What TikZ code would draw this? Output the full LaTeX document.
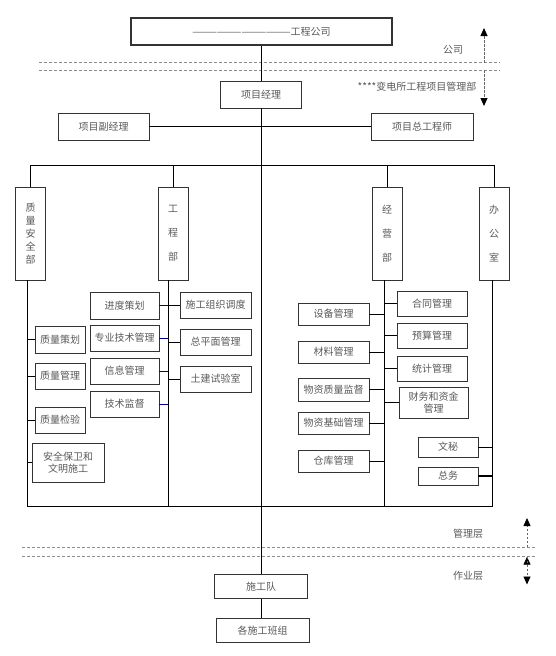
\documentclass[tikz,border=0pt]{standalone}
\usepackage{fontspec}
\setmainfont{Noto Sans CJK SC}
\usetikzlibrary{arrows.meta}

\begin{document}
\begin{tikzpicture}[x=1pt,y=-1pt,
  line width=0.8pt,
  unit box/.style={draw=black!80,text=black!65,inner sep=0pt,align=center,font=\fontsize{10}{12}\selectfont},
  dept box/.style={unit box,minimum width=30pt,minimum height=93pt,font=\fontsize{10}{24}\selectfont},
  box size/.style 2 args={minimum width=#1pt,minimum height=#2pt},
  blue link/.style={draw=blue!55!black},
  layer line/.style={draw=black!45,dash pattern=on 3pt off 2pt},
  layer arrow/.style={draw=black!60,dash pattern=on 2.5pt off 1.5pt,-{Triangle[length=8pt,width=7pt,black]}},
  side label/.style={text=black!65,font=\fontsize{10}{12}\selectfont}]

  \useasboundingbox (0,0) rectangle (555,656);

  \node[unit box,line width=1.2pt,box size={261}{27}] (co) at (261.5,31.5) {————————————工程公司};
  \node[unit box,box size={81}{27}] (pm) at (261,94.5) {项目经理};
  \node[unit box,box size={91}{27}] (dpm) at (103.5,126.5) {项目副经理};
  \node[unit box,box size={102}{27}] (ce) at (422,126.5) {项目总工程师};

  \node[dept box,font=\fontsize{10}{13}\selectfont] (qs) at (30.5,233.5) {质\\量\\安\\全\\部};
  \node[dept box] (en) at (173,233.5) {工\\程\\部};
  \node[dept box] (bz) at (387,233.5) {经\\营\\部};
  \node[dept box] (of) at (494,233.5) {办\\公\\室};

  \node[unit box,box size={50}{27}] (q1) at (60,339.5) {质量策划};
  \node[unit box,box size={50}{26}] (q2) at (60,376) {质量管理};
  \node[unit box,box size={50}{26}] (q3) at (60,420) {质量检验};
  \node[unit box,box size={72}{39}] (q4) at (68,462.5) {安全保卫和\\文明施工};

  \node[unit box,box size={69}{27}] (e1) at (124.5,305.5) {进度策划};
  \node[unit box,box size={69}{26}] (e2) at (124.5,338) {专业技术管理};
  \node[unit box,box size={69}{26}] (e3) at (124.5,371) {信息管理};
  \node[unit box,box size={69}{26}] (e4) at (124.5,404) {技术监督};
  \node[unit box,box size={71}{26}] (e5) at (215.5,305) {施工组织调度};
  \node[unit box,box size={71}{26}] (e6) at (215.5,342) {总平面管理};
  \node[unit box,box size={71}{26}] (e7) at (215.5,379) {土建试验室};

  \node[unit box,box size={70}{25}] (b1) at (432,303.5) {合同管理};
  \node[unit box,box size={70}{25}] (b2) at (432,335.5) {预算管理};
  \node[unit box,box size={70}{25}] (b3) at (432,368.5) {统计管理};
  \node[unit box,box size={69}{31}] (b4) at (433.5,402.5) {财务和资金\\管理};
  \node[unit box,box size={71}{22}] (b5) at (333.5,314) {设备管理};
  \node[unit box,box size={71}{22}] (b6) at (333.5,352) {材料管理};
  \node[unit box,box size={71}{23}] (b7) at (333.5,389.5) {物资质量监督};
  \node[unit box,box size={71}{22}] (b8) at (333.5,423) {物资基础管理};
  \node[unit box,box size={71}{22}] (b9) at (333.5,461) {仓库管理};

  \node[unit box,box size={60}{20}] (o1) at (448,447) {文秘};
  \node[unit box,box size={60}{18}] (o2) at (448,476) {总务};

  \node[unit box,box size={93}{24.5}] (tm) at (261,586.5) {施工队};
  \node[unit box,box size={93}{24.5}] (gp) at (262.5,630.5) {各施工班组};

  \node[side label] (lc) at (453,50) {公司};
  \node[side label] (lp) at (417,87) {****变电所工程项目管理部};
  \node[side label] (lm) at (468,534) {管理层};
  \node[side label] (lw) at (468,576) {作业层};

  \coordinate (hub) at (261,165.7);
  \coordinate (base) at (261,506);
  \coordinate (qsp) at ([xshift=-3.5pt]qs.south);
  \coordinate (enp) at ([xshift=-5pt]en.south);
  \coordinate (bzp) at ([xshift=-3pt]bz.south);
  \coordinate (ofp) at ([xshift=-2pt]of.south);
  \coordinate (a1) at (484,62.5);
  \coordinate (a2) at (484,28);
  \coordinate (a3) at (484,70);
  \coordinate (a4) at (484,106);
  \coordinate (a5) at (527,547.3);
  \coordinate (a6) at (527,518);
  \coordinate (a7) at (527,556.7);
  \coordinate (a8) at (527,584.5);

  \draw[layer line] (39,62.5) -- (500,62.5);
  \draw[layer line] (39,70) -- (500,70);
  \draw[layer line] (22,547.3) -- (535,547.3);
  \draw[layer line] (22,556.7) -- (535,556.7);
  \path[layer arrow]
   (a1) edge (a2)
   (a3) edge (a4)
   (a5) edge (a6)
   (a7) edge (a8);

  \path
   (co.south -| pm.north) edge (pm.north)
   (pm.south) edge (tm.north)
   (tm.south) edge (tm.south |- gp.north)
   (dpm) edge (ce);
  \draw (qs.north) -- (qs.north |- hub) -- (of.north |- hub) -- (of.north);
  \draw (qsp) -- (qsp |- base) -- (ofp |- base) -- (ofp);
  \path
   (en.north) edge (en.north |- hub)
   (bz.north) edge (bz.north |- hub)
   (enp) edge (enp |- base)
   (bzp) edge (bzp |- base);

  \path
   (q1.west) edge (q1.west -| qsp)
   (q2.west) edge (q2.west -| qsp)
   (q3.west) edge (q3.west -| qsp)
   (q4.west) edge (q4.west -| qsp)
   (e5.west) edge (e5.west -| enp)
   (e6.west) edge (e6.west -| enp)
   (e7.west) edge (e7.west -| enp)
   (b1.west) edge (b1.west -| bzp)
   (b2.west) edge (b2.west -| bzp)
   (b3.west) edge (b3.west -| bzp)
   (b4.west) edge (b4.west -| bzp)
   (b5.east) edge (b5.east -| bzp)
   (b6.east) edge (b6.east -| bzp)
   (b7.east) edge (b7.east -| bzp)
   (b8.east) edge (b8.east -| bzp)
   (b9.east) edge (b9.east -| bzp)
   (o1.east) edge (o1.east -| ofp)
   (o2.east) edge[line width=1.6pt] (o2.east -| ofp);
  \path[blue link]
   (e1.east) edge (e1.east -| enp)
   (e2.east) edge (e2.east -| enp)
   (e3.east) edge (e3.east -| enp)
   (e4.east) edge (e4.east -| enp);
\end{tikzpicture}
\end{document}
